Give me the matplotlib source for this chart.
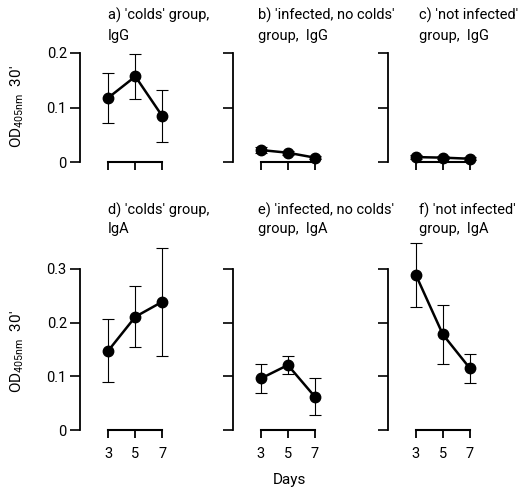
import matplotlib
matplotlib.use("Agg")
import matplotlib.pyplot as plt

plt.rcParams['font.family'] = ['Roboto', 'DejaVu Sans']
plt.rcParams['mathtext.fontset'] = 'custom'
plt.rcParams['mathtext.rm'] = 'Roboto'

# ---- data ----
days = [3, 5, 7]

igg_colds_mean = [0.118, 0.157, 0.084]
igg_colds_err = [0.046, 0.042, 0.048]
igg_infected_mean = [0.022, 0.017, 0.008]
igg_infected_err = [0.006, 0.004, 0.003]
igg_notinf_mean = [0.009, 0.008, 0.006]
igg_notinf_err = [0.003, 0.003, 0.003]

iga_colds_mean = [0.148, 0.211, 0.239]
iga_colds_err = [0.059, 0.057, 0.101]
iga_infected_mean = [0.096, 0.121, 0.062]
iga_infected_err = [0.027, 0.017, 0.034]
iga_notinf_mean = [0.289, 0.178, 0.115]
iga_notinf_err = [0.060, 0.055, 0.027]

titles_top = [("a) 'colds' group,", "IgG"),
              ("b) 'infected, no colds'", "group,  IgG"),
              ("c) 'not infected'", "group,  IgG")]
titles_bot = [("d) 'colds' group,", "IgA"),
              ("e) 'infected, no colds'", "group,  IgA"),
              ("f) 'not infected'", "group,  IgA")]

yticks_top = [0, 0.1, 0.2]
ytick_labels_top = ['0', '0.1', '0.2']
yticks_bot = [0, 0.1, 0.2, 0.3]
ytick_labels_bot = ['0', '0.1', '0.2', '0.3']
ylabel = r"OD$_{\mathregular{405nm}}$  30'"
xlabel = "Days"

# ---- layout ----
W, H = 519, 492
fig = plt.figure(figsize=(W / 100, H / 100), dpi=100)

def px_axes(left, bottom_y, width, height):
    return fig.add_axes([left / W, 1 - bottom_y / H, width / W, height / H])

spine_x = [80, 232.5, 387.5]
xlim = (0.9, 7.7)
px_per_day = 13.5
ax_w = (xlim[1] - xlim[0]) * px_per_day

top_means = [igg_colds_mean, igg_infected_mean, igg_notinf_mean]
top_errs = [igg_colds_err, igg_infected_err, igg_notinf_err]
bot_means = [iga_colds_mean, iga_infected_mean, iga_notinf_mean]
bot_errs = [iga_colds_err, iga_infected_err, iga_notinf_err]

FS = 10.5
TFS = 10.5

def style(ax, yticks, ylabels, ymax_tick, show_ylab, show_xlab):
    for s in ['top', 'right']:
        ax.spines[s].set_visible(False)
    ax.spines['left'].set_bounds(0, ymax_tick)
    ax.spines['bottom'].set_bounds(3, 7)
    ax.spines['left'].set_linewidth(1.3)
    ax.spines['bottom'].set_linewidth(1.5)
    ax.set_xlim(*xlim)
    ax.set_xticks(days)
    ax.set_yticks(yticks)
    ax.tick_params(axis='y', direction='out', length=7, width=1.2, pad=2.5, labelsize=FS)
    ax.tick_params(axis='x', direction='out', length=6, width=1.3, pad=6, labelsize=FS)
    if show_ylab:
        ax.set_yticklabels(ylabels)
    else:
        ax.set_yticklabels([])
    if show_xlab:
        ax.set_xticklabels([str(d) for d in days])
    else:
        ax.set_xticklabels([])
    ax.patch.set_visible(False)

def draw(ax, m, e):
    ax.errorbar(days, m, yerr=e, fmt='-o', color='k', ms=7.5, lw=1.8,
                elinewidth=0.8, capsize=4.5, capthick=0.8, clip_on=False, zorder=3)

# top row
for i in range(3):
    ylim = (0, 0.24)
    ax = px_axes(spine_x[i], 162, ax_w, (ylim[1] - ylim[0]) * 545)
    ax.set_ylim(*ylim)
    draw(ax, top_means[i], top_errs[i])
    style(ax, yticks_top, ytick_labels_top, 0.2, i == 0, False)
    if i == 0:
        ax.set_ylabel(ylabel, fontsize=11)
        ax.yaxis.set_label_coords(-(80 - 26) / ax_w, (162 - 107) / ((ylim[1]) * 545))

# bottom row
for i in range(3):
    ylim = (0, 0.37)
    ax = px_axes(spine_x[i], 430, ax_w, (ylim[1] - ylim[0]) * 536.7)
    ax.set_ylim(*ylim)
    draw(ax, bot_means[i], bot_errs[i])
    style(ax, yticks_bot, ytick_labels_bot, 0.3, i == 0, True)
    if i == 0:
        ax.set_ylabel(ylabel, fontsize=11)
        ax.yaxis.set_label_coords(-(80 - 26) / ax_w, (430 - 352) / (ylim[1] * 536.7))

# titles
title_x = [108, 258, 419]
for i, (l1, l2) in enumerate(titles_top):
    fig.text(title_x[i] / W, 1 - 15 / H, l1, fontsize=TFS, va='center', ha='left')
    fig.text(title_x[i] / W, 1 - 36 / H, l2, fontsize=TFS, va='center', ha='left')
for i, (l1, l2) in enumerate(titles_bot):
    fig.text(title_x[i] / W, 1 - 210 / H, l1, fontsize=TFS, va='center', ha='left')
    fig.text(title_x[i] / W, 1 - 229 / H, l2, fontsize=TFS, va='center', ha='left')

fig.text(289 / W, 1 - 480 / H, xlabel, fontsize=11, ha='center', va='center')

fig.savefig("out.png", dpi=100, facecolor='white')
